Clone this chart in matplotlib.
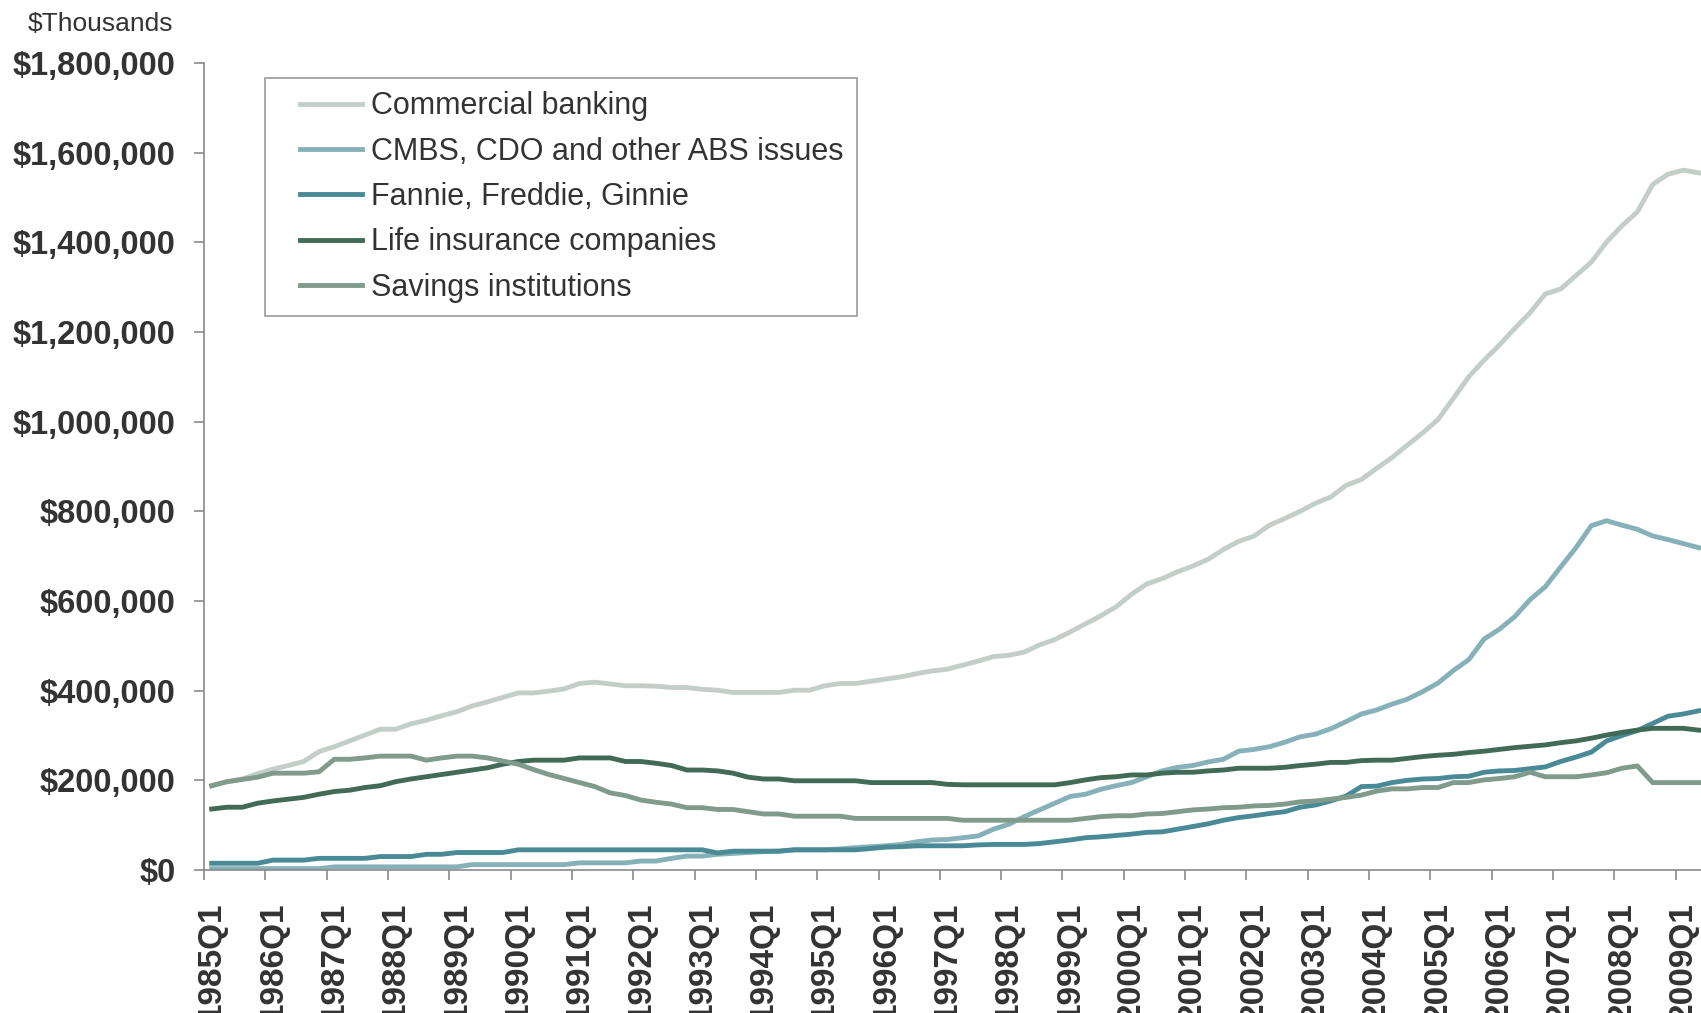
import matplotlib
matplotlib.use('Agg')
import matplotlib.pyplot as plt
from matplotlib.lines import Line2D
from matplotlib.legend_handler import HandlerLine2D
from matplotlib.ticker import FuncFormatter

plt.rcParams['font.family'] = ['Liberation Sans', 'DejaVu Sans']

# quarters 1985Q1 .. 2009Q2
quarters = [f"{y}Q{q}" for y in range(1985, 2010) for q in range(1, 5)][:98]

# $ thousands (in thousands of the axis unit)
commercial = [188, 197, 203, 215, 225, 233, 242, 264, 275, 288, 301, 314, 314, 326, 334, 344, 353, 366, 375, 385,
              395, 395, 399, 404, 416, 419, 415, 411, 411, 410, 407, 407, 403, 401,
              396, 396, 396, 396, 401, 401, 411, 416, 416, 421, 426, 431, 438, 444, 448, 457, 466, 476,
              479, 486, 502, 514, 531, 549, 567, 587, 615, 638, 650, 665, 678, 693, 715, 733, 745, 769,
              784, 800, 818, 832, 858, 871, 896, 920, 948, 975, 1005, 1052, 1100, 1137, 1171, 1208,
              1243, 1285, 1296, 1326, 1356, 1401, 1437, 1468, 1529, 1552, 1561, 1555]
cmbs = [3, 3, 3, 3, 3, 3, 3, 3, 7, 7, 7, 7, 7, 7, 7, 7, 7, 12, 12, 12, 12, 12, 12, 12,
        16, 16, 16, 16, 20, 20, 26, 31, 31, 35,
        37, 39, 41, 42, 45, 45, 45, 47, 50, 52, 54, 57, 63, 67, 68, 72, 76, 91, 102, 119,
        134, 149, 164, 169, 180, 188, 195, 208, 221, 229, 233, 241,
        247, 265, 269, 275, 285, 297, 303, 315, 331, 348, 357, 370, 381, 398, 417, 445, 469, 515, 537, 565,
        603, 632, 676, 719, 768, 779, 769, 760, 745, 737, 728, 719]
fannie = [15, 15, 15, 15, 22, 22, 22, 26, 26, 26, 26, 30, 30, 30, 35, 35, 39, 39, 39, 39,
          45, 45, 45, 45, 45, 45, 45, 45, 45, 45, 45, 45, 45, 38, 42, 42, 42, 42, 45, 45, 45, 45, 45,
          48, 51, 52, 54, 54, 54, 54, 56, 57, 57, 57, 59, 63, 67, 72, 74, 77, 80, 84, 85, 91, 97, 103,
          111, 117, 121, 126, 130, 140, 145, 154, 165, 186, 187, 195, 200, 203, 204, 208, 209, 218, 221,
          222, 226, 230, 242, 252, 263, 288, 300, 311, 327, 343, 348, 355]
life = [136, 140, 140, 149, 154, 158, 162, 169, 175, 178, 184, 188, 197, 203, 208, 213, 218, 223, 228, 236,
        242, 245, 245, 245, 250, 250, 250, 242, 242, 238, 233, 223, 223, 221,
        216, 207, 203, 203, 199, 199, 199, 199, 199, 195, 195, 195, 195, 195, 191, 190, 190, 190, 190, 190,
        190, 190, 195, 201, 206, 208, 212, 212, 216, 218, 218, 221,
        223, 227, 227, 227, 229, 233, 236, 240, 240, 244, 245, 245, 249, 253, 256, 258, 262, 265, 269, 273,
        276, 279, 284, 288, 294, 301, 307, 312, 316, 316, 316, 312]
savings = [188, 197, 202, 207, 216, 216, 216, 219, 247, 247, 250, 254, 254, 254, 245, 250, 254, 254, 250, 243,
           236, 224, 213, 204, 195, 186, 172, 166, 156, 151, 147, 139, 139, 135,
           135, 130, 125, 125, 120, 120, 120, 120, 115, 115, 115, 115, 115, 115, 115, 111, 111, 111, 111, 111,
           111, 111, 111, 115, 119, 121, 121, 125, 126, 130, 134, 136,
           139, 140, 143, 144, 147, 152, 154, 158, 162, 167, 176, 181, 181, 184, 184, 195, 195, 201, 204, 208,
           218, 208, 208, 208, 212, 217, 227, 232, 195, 195, 195, 195]

series = [
    ("Commercial banking", commercial, "#c4cec8"),
    ("CMBS, CDO and other ABS issues", cmbs, "#86b1b8"),
    ("Fannie, Freddie, Ginnie", fannie, "#4a8a96"),
    ("Life insurance companies", life, "#416b56"),
    ("Savings institutions", savings, "#809a8b"),
]

W, H = 1701, 1013
fig = plt.figure(figsize=(W / 100, H / 100), dpi=100)
left, right, bottom, top = 204, 1701, 870, 63
ax = fig.add_axes([left / W, 1 - bottom / H, (right - left) / W, (bottom - top) / H])

x = list(range(len(quarters)))
for name, vals, col in series:
    ax.plot(x, [v * 1000 for v in vals], color=col, lw=3.5, label=name, solid_joinstyle='miter')

ax.set_xlim(-0.5, -0.5 + (right - left) / 15.33)
ax.set_ylim(0, 1800000)

axis_col = '#8a8a8a'
for s in ['top', 'right']:
    ax.spines[s].set_visible(False)
for s in ['left', 'bottom']:
    ax.spines[s].set_color(axis_col)
    ax.spines[s].set_linewidth(1.2)

ax.set_yticks(range(0, 1800001, 200000))
ax.yaxis.set_major_formatter(FuncFormatter(lambda v, p: '${:,.0f}'.format(v)))
ax.tick_params(axis='y', length=7, width=1.2, color=axis_col, pad=13.5,
               labelsize=23.5, labelcolor='#333333')
for t in ax.get_yticklabels():
    t.set_fontweight('bold')

# tick marks between categories, labels on the Q1 points
ax.set_xticks([i - 0.5 for i in range(0, 97, 4)])
ax.set_xticklabels([])
ax.tick_params(axis='x', which='major', length=7, width=1.2, color=axis_col)
ax.set_xticks(list(range(0, 97, 4)), minor=True)
ax.set_xticklabels([quarters[i] for i in range(0, 97, 4)], minor=True,
                   rotation=90, fontsize=24, fontweight='bold', color='#333333')
ax.tick_params(axis='x', which='minor', length=0, pad=23)

fig.text(173 / W, 1 - 24 / H, '$Thousands', ha='right', va='center', fontsize=19, color='#333333')

leg = ax.legend(loc='upper left', bbox_to_anchor=(265 / W, 1 - 78 / H), bbox_transform=fig.transFigure,
                frameon=True, fancybox=False, edgecolor='#808080', fontsize=22,
                handlelength=2.72, handletextpad=0.3, labelspacing=0.5, borderpad=0.44,
                borderaxespad=0, handler_map={Line2D: HandlerLine2D(xpad=0.72)})
leg.get_frame().set_linewidth(1.2)
for t in leg.get_texts():
    t.set_color('#333333')

fig.savefig('out.png', dpi=100)
